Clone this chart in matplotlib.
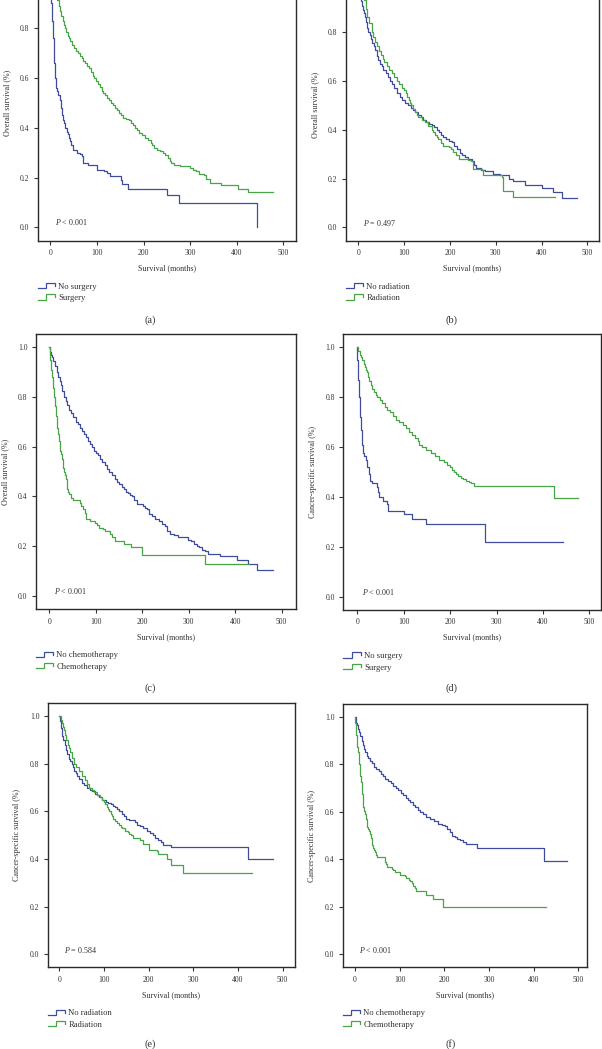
import numpy as np
import matplotlib
matplotlib.use("Agg")
import matplotlib.pyplot as plt
from matplotlib.lines import Line2D
from matplotlib.legend_handler import HandlerBase

plt.rcParams['font.family'] = ['Liberation Serif', 'DejaVu Serif']
plt.rcParams['mathtext.fontset'] = 'custom'
plt.rcParams['mathtext.it'] = 'Liberation Serif:italic'
plt.rcParams['mathtext.rm'] = 'Liberation Serif'

BLUE = '#3f4c9e'
GREEN = '#46a646'

# ---------------- data ----------------
# (a) overall survival by surgery
a_nosurg_t = [0, 0.5, 1, 2, 3, 4, 5, 6, 7, 8, 9, 10, 11, 12, 13, 15, 17, 20, 22, 24, 26, 28, 30, 32,
              35, 38, 41, 43, 45, 48, 58, 64, 67, 71, 81, 101, 115, 121, 128, 151, 154, 166, 251,
              276, 444]
a_nosurg_s = [1.0, 0.96, 0.93, 0.90, 0.87, 0.83, 0.80, 0.76, 0.72, 0.69, 0.66, 0.63, 0.60, 0.58,
              0.56, 0.55, 0.53, 0.51, 0.50, 0.48, 0.45, 0.43, 0.42, 0.40, 0.385, 0.375, 0.36, 0.345,
              0.33, 0.31, 0.30, 0.295, 0.285, 0.26, 0.25, 0.23, 0.225, 0.22, 0.205, 0.19, 0.175,
              0.155, 0.13, 0.097, 0.0]
a_surg_t = [0, 2, 4, 6, 8, 10, 12, 15, 18, 21, 24, 27, 29, 31, 34, 37, 40, 43, 47, 51, 55, 59, 63,
            67, 71, 75, 79, 83, 87, 91, 94, 98, 102, 106, 110, 114, 118, 122, 126, 131, 135, 139,
            143, 147, 151, 156, 163, 169, 173, 177, 181, 186, 191, 196, 199, 204, 210, 215, 218,
            222, 228, 236, 242, 247, 252, 256, 258, 265, 278, 300, 306, 312, 318, 329, 334, 342,
            367, 403, 424, 478]
a_surg_s = [1.0, 0.99, 0.975, 0.965, 0.955, 0.945, 0.93, 0.915, 0.89, 0.87, 0.85, 0.83, 0.815,
            0.80, 0.785, 0.77, 0.76, 0.75, 0.735, 0.72, 0.71, 0.70, 0.69, 0.68, 0.67, 0.66, 0.65,
            0.64, 0.625, 0.61, 0.60, 0.59, 0.578, 0.565, 0.55, 0.54, 0.53, 0.52, 0.51, 0.50, 0.49,
            0.48, 0.47, 0.46, 0.45, 0.44, 0.435, 0.43, 0.42, 0.41, 0.40, 0.39, 0.38, 0.372, 0.37,
            0.36, 0.35, 0.34, 0.33, 0.32, 0.31, 0.305, 0.30, 0.29, 0.28, 0.265, 0.26, 0.25, 0.245,
            0.24, 0.23, 0.225, 0.215, 0.21, 0.195, 0.18, 0.17, 0.155, 0.14, 0.14]

# (b) overall survival by radiation
b_norad_t = [0, 2, 4, 6, 8, 10, 12, 14, 17, 20, 22, 25, 28, 31, 34, 37, 41, 44, 47, 51, 55, 60, 64,
             69, 73, 78, 84, 90, 96, 102, 109, 114, 119, 124, 130, 136, 142, 148, 154, 160, 166,
             171, 176, 181, 186, 192, 198, 204, 210, 215, 221, 227, 233, 240, 249, 253, 258, 267,
             277, 295, 309, 328, 338, 364, 402, 424, 444, 477]
b_norad_s = [1.0, 0.97, 0.945, 0.925, 0.905, 0.89, 0.875, 0.86, 0.84, 0.815, 0.80, 0.785, 0.77,
             0.755, 0.74, 0.725, 0.70, 0.685, 0.67, 0.66, 0.645, 0.63, 0.615, 0.60, 0.585, 0.57,
             0.55, 0.535, 0.52, 0.51, 0.50, 0.49, 0.48, 0.47, 0.46, 0.45, 0.44, 0.43, 0.425, 0.42,
             0.41, 0.40, 0.39, 0.38, 0.37, 0.36, 0.355, 0.35, 0.335, 0.32, 0.305, 0.295, 0.29, 0.28,
             0.27, 0.255, 0.245, 0.235, 0.23, 0.22, 0.215, 0.20, 0.19, 0.175, 0.16, 0.145, 0.12,
             0.12]
b_rad_t = [0, 3, 6, 9, 12, 16, 20, 24, 29, 33, 37, 41, 45, 49, 53, 57, 62, 67, 73, 78, 84, 89, 95,
           100, 104, 107, 110, 113, 116, 120, 124, 128, 131, 138, 146, 153, 160, 164, 168, 172, 175,
           180, 186, 197, 202, 207, 213, 220, 240, 246, 251, 271, 273, 313, 317, 338, 429]
b_rad_s = [1.0, 0.98, 0.96, 0.945, 0.93, 0.895, 0.86, 0.835, 0.80, 0.78, 0.76, 0.74, 0.72, 0.705,
           0.69, 0.675, 0.66, 0.645, 0.63, 0.615, 0.60, 0.585, 0.57, 0.56, 0.55, 0.535, 0.52, 0.51,
           0.50, 0.485, 0.47, 0.46, 0.45, 0.44, 0.43, 0.415, 0.40, 0.39, 0.38, 0.37, 0.36, 0.345,
           0.335, 0.33, 0.32, 0.31, 0.295, 0.28, 0.275, 0.27, 0.24, 0.235, 0.215, 0.205, 0.15,
           0.125, 0.125]

# (c) overall survival by chemotherapy
c_nochemo_t = [0, 2, 4, 6, 9, 12, 16, 19, 22, 25, 28, 32, 35, 38, 42, 47, 52, 57, 61, 66, 70, 75,
               79, 83, 87, 91, 96, 100, 104, 109, 114, 119, 124, 129, 135, 141, 146, 151, 156, 161,
               166, 170, 174, 177, 183, 189, 202, 206, 211, 215, 220, 228, 237, 243, 249, 254, 260,
               268, 278, 299, 305, 311, 317, 322, 329, 335, 342, 367, 403, 428, 446, 481]
c_nochemo_s = [1.0, 0.98, 0.97, 0.96, 0.945, 0.925, 0.90, 0.88, 0.865, 0.85, 0.825, 0.80, 0.785,
               0.77, 0.75, 0.735, 0.72, 0.70, 0.69, 0.675, 0.665, 0.65, 0.64, 0.625, 0.61, 0.60,
               0.585, 0.575, 0.565, 0.55, 0.54, 0.525, 0.51, 0.50, 0.485, 0.47, 0.46, 0.45, 0.44,
               0.43, 0.42, 0.415, 0.405, 0.40, 0.385, 0.37, 0.36, 0.355, 0.35, 0.33, 0.32, 0.31,
               0.30, 0.29, 0.28, 0.26, 0.25, 0.245, 0.235, 0.225, 0.22, 0.21, 0.20, 0.195, 0.185,
               0.18, 0.17, 0.16, 0.145, 0.13, 0.105, 0.105]
c_chemo_t = [0, 1, 2, 3, 4, 5, 6, 7, 8, 9, 10, 11, 12, 13, 14, 15, 16, 17, 18, 19, 20, 22, 24, 25,
             27, 29, 30, 32, 34, 35, 37, 39, 41, 43, 46, 50, 66, 68, 72, 76, 79, 88, 99, 102, 108,
             116, 120, 131, 136, 141, 161, 175, 199, 336, 430]
c_chemo_s = [1.0, 0.97, 0.95, 0.93, 0.91, 0.90, 0.88, 0.865, 0.85, 0.835, 0.815, 0.80, 0.78, 0.765,
             0.75, 0.725, 0.70, 0.675, 0.66, 0.65, 0.625, 0.60, 0.585, 0.57, 0.55, 0.53, 0.515,
             0.50, 0.485, 0.47, 0.45, 0.43, 0.42, 0.41, 0.395, 0.385, 0.375, 0.36, 0.35, 0.335,
             0.31, 0.30, 0.295, 0.285, 0.275, 0.27, 0.26, 0.25, 0.235, 0.22, 0.21, 0.195, 0.165,
             0.13, 0.13]

# (d) cancer-specific survival by surgery
d_nosurg_t = [0, 0.5, 1, 2, 3, 4, 5, 6, 7, 8, 9, 10, 11, 12, 13, 15, 18, 20, 22, 25, 28, 31, 42,
              44, 46, 56, 65, 67, 101, 117, 149, 275, 444]
d_nosurg_s = [1.0, 0.95, 0.92, 0.87, 0.83, 0.80, 0.77, 0.75, 0.72, 0.70, 0.67, 0.64, 0.61, 0.59,
              0.575, 0.565, 0.55, 0.535, 0.52, 0.49, 0.465, 0.455, 0.44, 0.42, 0.40, 0.385, 0.37,
              0.345, 0.33, 0.31, 0.29, 0.22, 0.22]
d_surg_t = [0, 2, 5, 8, 11, 14, 16, 18, 20, 23, 26, 29, 32, 36, 40, 43, 48, 54, 60, 65, 71, 78, 84,
            91, 98, 105, 112, 119, 124, 130, 134, 139, 148, 158, 167, 177, 186, 193, 200, 204, 208,
            213, 218, 223, 228, 234, 240, 246, 251, 424, 476]
d_surg_s = [1.0, 0.985, 0.97, 0.96, 0.95, 0.935, 0.92, 0.91, 0.90, 0.88, 0.865, 0.85, 0.835, 0.82,
            0.81, 0.80, 0.79, 0.775, 0.76, 0.75, 0.74, 0.725, 0.71, 0.70, 0.69, 0.675, 0.66, 0.65,
            0.635, 0.625, 0.61, 0.60, 0.59, 0.575, 0.565, 0.55, 0.54, 0.53, 0.52, 0.51, 0.50, 0.49,
            0.485, 0.475, 0.47, 0.465, 0.46, 0.455, 0.445, 0.395, 0.395]

# (e) cancer-specific survival by radiation
e_norad_t = [0, 1, 3, 5, 7, 9, 12, 15, 18, 22, 25, 28, 31, 34, 37, 40, 45, 50, 56, 63, 68, 74, 79,
             84, 89, 95, 104, 110, 115, 120, 125, 130, 134, 140, 145, 150, 155, 169, 175, 181, 188,
             196, 203, 209, 215, 222, 228, 233, 249, 423, 478]
e_norad_s = [1.0, 0.98, 0.95, 0.93, 0.915, 0.90, 0.88, 0.86, 0.84, 0.82, 0.81, 0.80, 0.785, 0.77,
             0.76, 0.75, 0.735, 0.72, 0.71, 0.70, 0.69, 0.685, 0.675, 0.67, 0.66, 0.65, 0.64, 0.635,
             0.63, 0.625, 0.62, 0.61, 0.60, 0.59, 0.58, 0.57, 0.565, 0.555, 0.545, 0.54, 0.53, 0.52,
             0.51, 0.50, 0.49, 0.48, 0.47, 0.46, 0.45, 0.40, 0.40]
e_rad_t = [0, 3, 5, 8, 10, 13, 16, 19, 22, 25, 29, 33, 38, 45, 50, 57, 62, 67, 73, 78, 84, 90, 95,
           100, 103, 106, 109, 112, 115, 118, 121, 125, 129, 133, 137, 140, 147, 154, 157, 160, 166,
           181, 188, 201, 218, 222, 240, 249, 276, 431]
e_rad_s = [1.0, 0.985, 0.97, 0.955, 0.94, 0.92, 0.90, 0.88, 0.865, 0.85, 0.825, 0.80, 0.785, 0.77,
           0.75, 0.73, 0.715, 0.70, 0.69, 0.68, 0.67, 0.66, 0.65, 0.64, 0.63, 0.62, 0.61, 0.60,
           0.59, 0.58, 0.57, 0.56, 0.55, 0.545, 0.535, 0.53, 0.52, 0.515, 0.505, 0.50, 0.49, 0.48,
           0.465, 0.44, 0.435, 0.42, 0.40, 0.375, 0.34, 0.34]

# (f) cancer-specific survival by chemotherapy
f_nochemo_t = [0, 2, 3, 5, 7.5, 10, 12, 15, 18, 20, 23, 27, 30, 34, 38, 43, 48, 53, 58, 63, 68, 74,
               80, 86, 91, 97, 103, 108, 114, 119, 124, 129, 135, 141, 146, 153, 160, 168, 177, 186,
               194, 201, 207, 212, 218, 224, 229, 235, 242, 249, 274, 422, 474]
f_nochemo_s = [1.0, 0.985, 0.975, 0.965, 0.95, 0.935, 0.92, 0.90, 0.88, 0.865, 0.85, 0.835, 0.825,
               0.815, 0.805, 0.79, 0.78, 0.77, 0.76, 0.75, 0.74, 0.73, 0.72, 0.71, 0.70, 0.69, 0.68,
               0.67, 0.66, 0.65, 0.64, 0.63, 0.62, 0.61, 0.60, 0.59, 0.58, 0.57, 0.56, 0.55, 0.545,
               0.54, 0.53, 0.515, 0.50, 0.495, 0.485, 0.48, 0.475, 0.465, 0.45, 0.395, 0.395]
f_chemo_t = [0, 1, 2, 3, 4, 5, 6, 7, 8, 10, 11, 12, 13, 15, 16, 17, 18, 19, 20, 22, 24, 26, 28, 29,
             32, 34, 35, 37, 39, 41, 43, 45, 48, 50, 67, 69, 72, 82, 86, 90, 101, 112, 115, 120,
             123, 127, 130, 134, 137, 160, 174, 198, 428]
f_chemo_s = [1.0, 0.975, 0.95, 0.925, 0.90, 0.875, 0.86, 0.85, 0.825, 0.80, 0.775, 0.75, 0.725,
             0.70, 0.675, 0.65, 0.635, 0.62, 0.605, 0.59, 0.57, 0.55, 0.535, 0.53, 0.52, 0.505,
             0.49, 0.47, 0.46, 0.45, 0.44, 0.43, 0.42, 0.41, 0.39, 0.38, 0.37, 0.36, 0.355, 0.345,
             0.335, 0.33, 0.32, 0.315, 0.31, 0.30, 0.29, 0.28, 0.265, 0.25, 0.235, 0.20, 0.20]

panel_labels = ['(a)', '(b)', '(c)', '(d)', '(e)', '(f)']
ylabels = ['Overall survival (%)'] * 3 + ['Cancer-specific survival (%)'] * 3
p_texts = ['$P$ < 0.001', '$P$ = 0.497', '$P$ < 0.001', '$P$ < 0.001', '$P$ = 0.584', '$P$ < 0.001']
legend_names = [('No surgery', 'Surgery'), ('No radiation', 'Radiation'),
                ('No chemotherapy', 'Chemotherapy'), ('No surgery', 'Surgery'),
                ('No radiation', 'Radiation'), ('No chemotherapy', 'Chemotherapy')]
series = [((a_nosurg_t, a_nosurg_s), (a_surg_t, a_surg_s)),
          ((b_norad_t, b_norad_s), (b_rad_t, b_rad_s)),
          ((c_nochemo_t, c_nochemo_s), (c_chemo_t, c_chemo_s)),
          ((d_nosurg_t, d_nosurg_s), (d_surg_t, d_surg_s)),
          ((e_norad_t, e_norad_s), (e_rad_t, e_rad_s)),
          ((f_nochemo_t, f_nochemo_s), (f_chemo_t, f_chemo_s))]
x_ticks = [0, 100, 200, 300, 400, 500]
y_ticks_full = [0.0, 0.2, 0.4, 0.6, 0.8, 1.0]
y_ticks_cut = [0.0, 0.2, 0.4, 0.6, 0.8]   # top row: 1.0 lies above the cropped edge

# ---------------- layout (pixels) ----------------
W, H = 602, 1049
# left, top, right, bottom in pixels
boxes = [(37.7, -34.8, 296, 240.7), (345.7, -30.4, 599, 240.7),
         (35.7, 334, 296, 609.3), (343.3, 334, 601, 610),
         (47.7, 703.3, 294.7, 967.3), (342.7, 704, 587.3, 967.3)]
xlims = [(-27, 527), (-27.5, 525.5), (-29.3, 531), (-30, 525), (-26, 527), (-27.5, 520)]
label_y = [320, 320, 688, 688, 1044, 1044]
label_x = [150, 451, 150, 451, 150, 451]


class StepHandler(HandlerBase):
    def create_artists(self, legend, orig_handle, xdescent, ydescent, width, height, fontsize, trans):
        xs = np.array([0, 0.5, 0.5, 1.0, 1.0]) * width - xdescent
        ys = np.array([0.05, 0.05, 0.95, 0.95, 0.45]) * height - ydescent
        ln = Line2D(xs, ys, color=orig_handle.get_color(), lw=orig_handle.get_linewidth(),
                    solid_joinstyle='miter')
        ln.set_transform(trans)
        return [ln]


fig = plt.figure(figsize=(W / 100, H / 100), dpi=100)
TXT = '#333333'
for i in range(6):
    l, t, r, b = boxes[i]
    ax = fig.add_axes([l / W, (H - b) / H, (r - l) / W, (b - t) / H])
    wpx, hpx = r - l, b - t
    (t1, s1), (t2, s2) = series[i]
    h1, = ax.step(t1, s1, where='post', color=BLUE, lw=0.9)
    h2, = ax.step(t2, s2, where='post', color=GREEN, lw=0.9)
    ax.set_xlim(*xlims[i])
    ax.set_ylim(-0.054, 1.054)
    ax.set_xticks(x_ticks)
    yt = y_ticks_cut if i < 2 else y_ticks_full
    ax.set_yticks(yt)
    ax.set_yticklabels([f'{v:.1f}' for v in yt])
    ax.tick_params(direction='out', length=3, width=0.8, pad=3, labelsize=5.5,
                   colors='#333333', labelcolor=TXT)
    for sp in ax.spines.values():
        sp.set_linewidth(1.0)
        sp.set_color('#2a2a2a')
    ax.set_xlabel('Survival (months)', fontsize=5.8, color=TXT)
    ax.set_ylabel(ylabels[i], fontsize=5.8, color=TXT)
    ax.xaxis.set_label_coords(0.5, -23.5 / hpx)
    ax.yaxis.set_label_coords(-26.5 / wpx, 0.5)
    ax.text(10, 0.02, p_texts[i], fontsize=5.8, color=TXT, ha='left', va='center')
    ax.legend([h1, h2], list(legend_names[i]), handler_map={Line2D: StepHandler()},
              loc='upper left', bbox_to_anchor=(0, -42 / hpx), borderaxespad=0, borderpad=0,
              frameon=False, fontsize=6.2, handlelength=2.0, handleheight=0.7,
              handletextpad=0.4, labelspacing=0.4, labelcolor=TXT)
    fig.text(label_x[i] / W, 1 - label_y[i] / H, panel_labels[i], fontsize=7.5, color=TXT,
             ha='center', va='center')

fig.savefig('out.png', dpi=100)
